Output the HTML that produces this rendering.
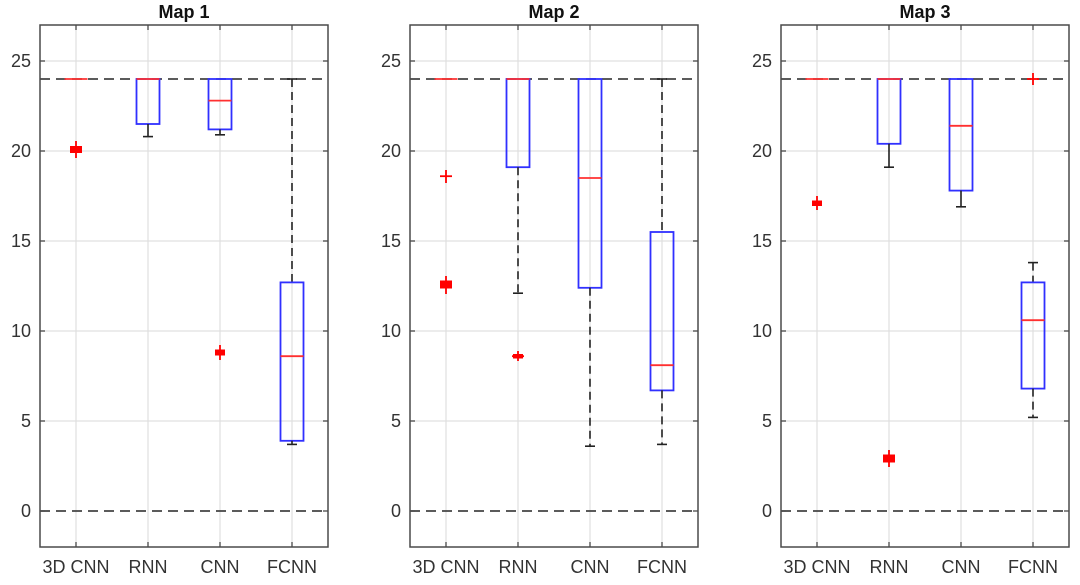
<!DOCTYPE html>
<html><head><meta charset="utf-8"><style>
html,body{margin:0;padding:0;background:#fff;}
svg{display:block;}
text{font-family:"Liberation Sans",Arial,sans-serif;fill:#333;}
.g{stroke:#e0e0e0;stroke-width:1.2;}
.ax{fill:none;stroke:#4a4a4a;stroke-width:1.5;}
.tk{stroke:#4a4a4a;stroke-width:1.3;}
.ref{stroke:#444;stroke-width:1.8;stroke-dasharray:10,6;}
.bx{fill:none;stroke:#3030ff;stroke-width:1.8;}
.md{stroke:#ff3030;stroke-width:1.8;}
.wh{stroke:#222;stroke-width:1.6;stroke-dasharray:8,5;}
.cp{stroke:#222;stroke-width:1.6;}
.o{stroke:#f00;stroke-width:1.8;}
.yl{font-size:18px;text-anchor:end;}
.xl{font-size:18px;text-anchor:middle;}
.t{font-size:18px;font-weight:bold;text-anchor:middle;fill:#111;}
</style></head><body>
<svg width="1080" height="585" viewBox="0 0 1080 585">
<defs>
<g id="frame">
  <line class="g" x1="0" x2="288" y1="61" y2="61"/>
  <line class="g" x1="0" x2="288" y1="151" y2="151"/>
  <line class="g" x1="0" x2="288" y1="241" y2="241"/>
  <line class="g" x1="0" x2="288" y1="331" y2="331"/>
  <line class="g" x1="0" x2="288" y1="421" y2="421"/>
  <line class="g" x1="36" x2="36" y1="25" y2="547"/>
  <line class="g" x1="108" x2="108" y1="25" y2="547"/>
  <line class="g" x1="180" x2="180" y1="25" y2="547"/>
  <line class="g" x1="252" x2="252" y1="25" y2="547"/>
  <line class="ref" x1="0" x2="288" y1="79" y2="79"/>
  <line class="ref" x1="0" x2="288" y1="511" y2="511"/>
  <g class="tk">
    <line x1="0" x2="5" y1="61" y2="61"/><line x1="0" x2="5" y1="151" y2="151"/><line x1="0" x2="5" y1="241" y2="241"/><line x1="0" x2="5" y1="331" y2="331"/><line x1="0" x2="5" y1="421" y2="421"/><line x1="0" x2="5" y1="511" y2="511"/>
    <line x1="283" x2="288" y1="61" y2="61"/><line x1="283" x2="288" y1="151" y2="151"/><line x1="283" x2="288" y1="241" y2="241"/><line x1="283" x2="288" y1="331" y2="331"/><line x1="283" x2="288" y1="421" y2="421"/><line x1="283" x2="288" y1="511" y2="511"/>
    <line x1="36" x2="36" y1="547" y2="542"/><line x1="108" x2="108" y1="547" y2="542"/><line x1="180" x2="180" y1="547" y2="542"/><line x1="252" x2="252" y1="547" y2="542"/>
    <line x1="36" x2="36" y1="25" y2="30"/><line x1="108" x2="108" y1="25" y2="30"/><line x1="180" x2="180" y1="25" y2="30"/><line x1="252" x2="252" y1="25" y2="30"/>
  </g>
  <rect class="ax" x="0" y="25" width="288" height="522"/>
  <text class="yl" x="-9" y="67">25</text>
  <text class="yl" x="-9" y="157">20</text>
  <text class="yl" x="-9" y="247">15</text>
  <text class="yl" x="-9" y="337">10</text>
  <text class="yl" x="-9" y="427">5</text>
  <text class="yl" x="-9" y="517">0</text>
  <text class="xl" x="36" y="573">3D CNN</text>
  <text class="xl" x="108" y="573">RNN</text>
  <text class="xl" x="180" y="573">CNN</text>
  <text class="xl" x="252" y="573">FCNN</text>
</g>
</defs>

<!-- Map 1 -->
<g transform="translate(40,0)">
  <use href="#frame"/>
  <text class="t" x="144" y="18">Map 1</text>
  <line class="md" x1="24.5" x2="47.5" y1="79" y2="79"/>
  <rect x="30" y="146" width="12" height="7" fill="#f00"/><line class="o" x1="36" x2="36" y1="141" y2="158"/>
  <rect class="bx" x="96.5" y="79" width="23" height="45"/>
  <line class="md" x1="96.5" x2="119.5" y1="79" y2="79"/>
  <line class="cp" x1="108" x2="108" y1="124" y2="136.6"/><line class="cp" x1="103" x2="113" y1="136.6" y2="136.6"/>
  <rect class="bx" x="168.5" y="79" width="23" height="50.4"/>
  <line class="md" x1="168.5" x2="191.5" y1="100.6" y2="100.6"/>
  <line class="cp" x1="180" x2="180" y1="129.4" y2="134.8"/><line class="cp" x1="175" x2="185" y1="134.8" y2="134.8"/>
  <rect x="175" y="349.5" width="10" height="6" fill="#f00"/><line class="o" x1="180" x2="180" y1="345" y2="360"/>
  <line class="wh" x1="252" x2="252" y1="79" y2="282.4"/><line class="cp" x1="247" x2="257" y1="79" y2="79"/>
  <rect class="bx" x="240.5" y="282.4" width="23" height="158.4"/>
  <line class="md" x1="240.5" x2="263.5" y1="356.2" y2="356.2"/>
  <line class="cp" x1="252" x2="252" y1="440.8" y2="444.4"/><line class="cp" x1="247" x2="257" y1="444.4" y2="444.4"/>
</g>

<!-- Map 2 -->
<g transform="translate(410,0)">
  <use href="#frame"/>
  <text class="t" x="144" y="18">Map 2</text>
  <line class="md" x1="24.5" x2="47.5" y1="79" y2="79"/>
  <line class="o" x1="30" x2="42" y1="176.2" y2="176.2"/><line class="o" x1="36" x2="36" y1="170" y2="183"/>
  <rect x="30" y="280.5" width="12" height="8" fill="#f00"/><line class="o" x1="36" x2="36" y1="276" y2="294"/>
  <rect class="bx" x="96.5" y="79" width="23" height="88.2"/>
  <line class="md" x1="96.5" x2="119.5" y1="79" y2="79"/>
  <line class="wh" x1="108" x2="108" y1="167.2" y2="293.2"/><line class="cp" x1="103" x2="113" y1="293.2" y2="293.2"/>
  <line class="o" x1="102" x2="114" y1="356.2" y2="356.2"/><rect x="103" y="354" width="10" height="4.5" fill="#f00"/><line class="o" x1="108" x2="108" y1="351" y2="361"/>
  <rect class="bx" x="168.5" y="79" width="23" height="208.8"/>
  <line class="md" x1="168.5" x2="191.5" y1="178" y2="178"/>
  <line class="wh" x1="180" x2="180" y1="287.8" y2="446.2"/><line class="cp" x1="175" x2="185" y1="446.2" y2="446.2"/>
  <line class="wh" x1="252" x2="252" y1="79" y2="232"/><line class="cp" x1="247" x2="257" y1="79" y2="79"/>
  <rect class="bx" x="240.5" y="232" width="23" height="158.4"/>
  <line class="md" x1="240.5" x2="263.5" y1="365.2" y2="365.2"/>
  <line class="wh" x1="252" x2="252" y1="390.4" y2="444.4"/><line class="cp" x1="247" x2="257" y1="444.4" y2="444.4"/>
</g>

<!-- Map 3 -->
<g transform="translate(781,0)">
  <use href="#frame"/>
  <text class="t" x="144" y="18">Map 3</text>
  <line class="md" x1="24.5" x2="47.5" y1="79" y2="79"/>
  <rect x="31" y="200.5" width="10" height="5.5" fill="#f00"/><line class="o" x1="36" x2="36" y1="196" y2="210"/>
  <rect class="bx" x="96.5" y="79" width="23" height="64.8"/>
  <line class="md" x1="96.5" x2="119.5" y1="79" y2="79"/>
  <line class="cp" x1="108" x2="108" y1="143.8" y2="167.2"/><line class="cp" x1="103" x2="113" y1="167.2" y2="167.2"/>
  <rect x="102" y="454.5" width="12" height="8" fill="#f00"/><line class="o" x1="108" x2="108" y1="450" y2="467"/>
  <rect class="bx" x="168.5" y="79" width="23" height="111.6"/>
  <line class="md" x1="168.5" x2="191.5" y1="125.8" y2="125.8"/>
  <line class="cp" x1="180" x2="180" y1="190.6" y2="206.8"/><line class="cp" x1="175" x2="185" y1="206.8" y2="206.8"/>
  <line class="wh" x1="252" x2="252" y1="262.6" y2="282.4"/><line class="cp" x1="247" x2="257" y1="262.6" y2="262.6"/>
  <rect class="bx" x="240.5" y="282.4" width="23" height="106.2"/>
  <line class="md" x1="240.5" x2="263.5" y1="320.2" y2="320.2"/>
  <line class="wh" x1="252" x2="252" y1="388.6" y2="417.4"/><line class="cp" x1="247" x2="257" y1="417.4" y2="417.4"/>
  <line class="o" x1="246" x2="258" y1="79" y2="79"/><line class="o" x1="252" x2="252" y1="73" y2="85"/>
</g>
</svg>
</body></html>
